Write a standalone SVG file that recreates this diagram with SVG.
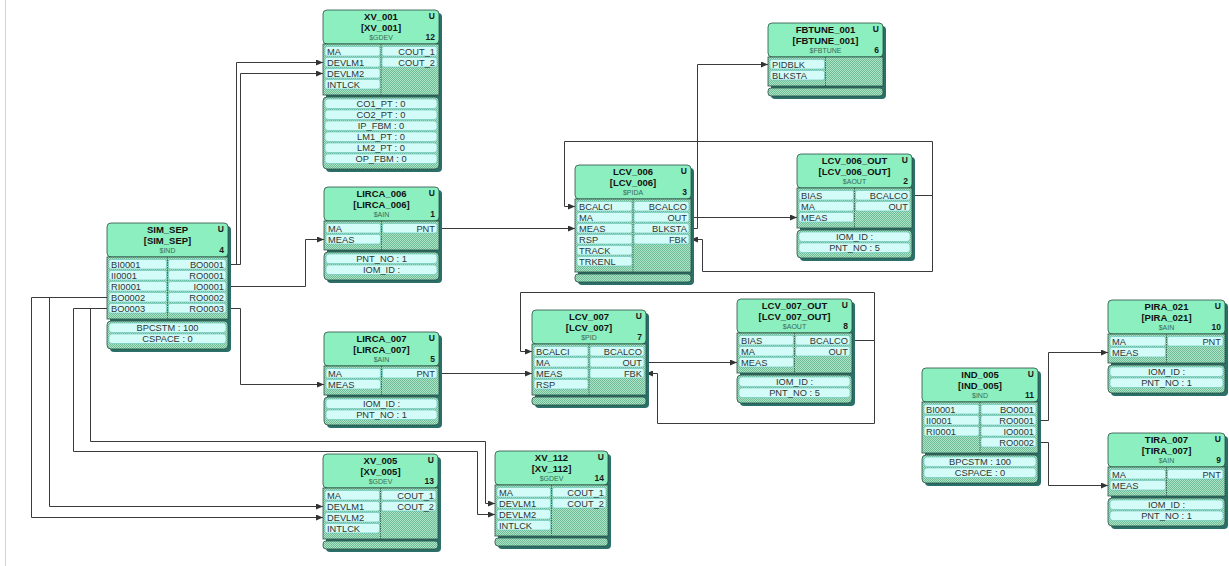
<svg xmlns="http://www.w3.org/2000/svg" width="1229" height="566" viewBox="0 0 1229 566">
<style>
.sh{fill:#2b6f69}
.hd{fill:#8cefbf;stroke:#2a4f44;stroke-width:0.8}
.bd{fill:url(#hatch);stroke:#2a4f44;stroke-width:0.8}
.pa{fill:url(#hatch);stroke:#2a4f44;stroke-width:0.8}
.c{fill:#d3fbf8;stroke:#63c3bb;stroke-width:0.6}
.dv{stroke:#2a4f44;stroke-width:0.8;stroke-dasharray:1.5 1}
text{font-family:"Liberation Sans",Arial,sans-serif}
.t1{font-size:9.5px;font-weight:bold;fill:#111;text-anchor:middle}
.ty{font-size:7px;fill:#3b6b57;text-anchor:middle}
.u{font-size:8.5px;font-weight:bold;fill:#1a1a1a;text-anchor:end}
.l{font-size:9.3px;fill:#2e3535}
.r{font-size:9.3px;fill:#2e3535;text-anchor:end}
.m{font-size:9.3px;fill:#2e3535;text-anchor:middle}
.ln{fill:none;stroke:#3a3a3a;stroke-width:1}
</style>
<defs>
<pattern id="hatch" width="2" height="2" patternUnits="userSpaceOnUse"><rect width="2" height="2" fill="#abe4c6"/><rect width="1" height="1" fill="#6fbb95"/><rect x="1" y="1" width="1" height="1" fill="#6fbb95"/></pattern>
<marker id="ar" viewBox="0 0 7 6" refX="7" refY="3" markerWidth="7" markerHeight="6" markerUnits="userSpaceOnUse" orient="auto"><path d="M0,0 L7,3 L0,6 z" fill="#333"/></marker>
</defs>
<rect width="1229" height="566" fill="#ffffff"/>
<line x1="5.5" y1="0" x2="5.5" y2="566" stroke="#d2d2d2" stroke-width="1"/>

<g id="connectors" class="ln" marker-end="url(#ar)">
<path class="ln" d="M228,264.5 H236.5 V62.5 H323"/>
<path class="ln" d="M228,264.5 H240.5 V73.5 H323"/>
<path class="ln" d="M228,286.5 H305.5 V239.5 H324"/>
<path class="ln" d="M228,308.5 H240.5 V384.5 H324"/>
<path class="ln" d="M107,297.5 H31.5 V517.5 H323"/>
<path class="ln" d="M107,297.5 H49.5 V506.5 H323"/>
<path class="ln" d="M107,308.5 H90.5 V441.5 H485.5 V503.5 H495"/>
<path class="ln" d="M107,308.5 H73.5 V451.5 H477.5 V514.5 H495"/>
<path class="ln" d="M439,228.5 H575"/>
<path class="ln" d="M439,373.5 H532"/>
<path class="ln" d="M691,217.5 H797"/>
<path class="ln" d="M691,228.5 H697.5 V64.5 H768"/>
<path class="ln" d="M912,195.5 H932.5 V141.5 H564.5 V206.5 H575"/>
<path class="ln" d="M912,195.5 H932.5 V271.5 H702.5 V239.5 H691"/>
<path class="ln" d="M646,362.5 H737"/>
<path class="ln" d="M852,340.5 H874.5 V292.5 H520.5 V351.5 H532"/>
<path class="ln" d="M852,340.5 H874.5 V423.5 H657.5 V373.5 H646"/>
<path class="ln" d="M1038,420.5 H1048.5 V352.5 H1108"/>
<path class="ln" d="M1038,442.5 H1048.5 V485.5 H1108"/>
</g>

<g id="SIM_SEP" transform="translate(107,223)">
<rect class="sh" x="3" y="3" width="121" height="126" rx="4"/>
<rect class="hd" width="121" height="34" rx="4"/>
<rect class="bd" y="34" width="121" height="62"/>
<line class="dv" x1="60.5" y1="34" x2="60.5" y2="96"/>
<rect class="c" x="2" y="36.5" width="57.5" height="9.5" rx="2"/><rect class="c" x="2" y="47.5" width="57.5" height="9.5" rx="2"/><rect class="c" x="2" y="58.5" width="57.5" height="9.5" rx="2"/><rect class="c" x="2" y="69.5" width="57.5" height="9.5" rx="2"/><rect class="c" x="2" y="80.5" width="57.5" height="9.5" rx="2"/>
<rect class="c" x="61.5" y="36.5" width="57.5" height="9.5" rx="2"/><rect class="c" x="61.5" y="47.5" width="57.5" height="9.5" rx="2"/><rect class="c" x="61.5" y="58.5" width="57.5" height="9.5" rx="2"/><rect class="c" x="61.5" y="69.5" width="57.5" height="9.5" rx="2"/><rect class="c" x="61.5" y="80.5" width="57.5" height="9.5" rx="2"/>
<rect class="pa" y="98" width="121" height="28" rx="4"/>
<rect class="c" x="2" y="100" width="117" height="9.5" rx="3"/><rect class="c" x="2" y="111" width="117" height="9.5" rx="3"/>
<text class="t1" x="60.5" y="10">SIM_SEP</text><text class="t1" x="60.5" y="21">[SIM_SEP]</text><text class="ty" x="60.5" y="30">$IND</text><text class="u" x="117" y="9">U</text><text class="u" x="117" y="30">4</text>
<text class="l" x="4" y="44.5">BI0001</text><text class="l" x="4" y="55.5">II0001</text><text class="l" x="4" y="66.5">RI0001</text><text class="l" x="4" y="77.5">BO0002</text><text class="l" x="4" y="88.5">BO0003</text>
<text class="r" x="117" y="44.5">BO0001</text><text class="r" x="117" y="55.5">RO0001</text><text class="r" x="117" y="66.5">IO0001</text><text class="r" x="117" y="77.5">RO0002</text><text class="r" x="117" y="88.5">RO0003</text>
<text class="m" x="60.5" y="108">BPCSTM : 100</text><text class="m" x="60.5" y="119">CSPACE : 0</text>
</g>

<g id="XV_001" transform="translate(323,10)">
<rect class="sh" x="3" y="3" width="116" height="159" rx="4"/>
<rect class="hd" width="116" height="34" rx="4"/>
<rect class="bd" y="34" width="116" height="51"/>
<line class="dv" x1="58" y1="34" x2="58" y2="85"/>
<rect class="c" x="2" y="36.5" width="55" height="9.5" rx="2"/><rect class="c" x="2" y="47.5" width="55" height="9.5" rx="2"/><rect class="c" x="2" y="58.5" width="55" height="9.5" rx="2"/><rect class="c" x="2" y="69.5" width="55" height="9.5" rx="2"/>
<rect class="c" x="59" y="36.5" width="55" height="9.5" rx="2"/><rect class="c" x="59" y="47.5" width="55" height="9.5" rx="2"/>
<rect class="pa" y="87" width="116" height="72" rx="4"/>
<rect class="c" x="2" y="89" width="112" height="9.5" rx="3"/><rect class="c" x="2" y="100" width="112" height="9.5" rx="3"/><rect class="c" x="2" y="111" width="112" height="9.5" rx="3"/><rect class="c" x="2" y="122" width="112" height="9.5" rx="3"/><rect class="c" x="2" y="133" width="112" height="9.5" rx="3"/><rect class="c" x="2" y="144" width="112" height="9.5" rx="3"/>
<text class="t1" x="58" y="10">XV_001</text><text class="t1" x="58" y="21">[XV_001]</text><text class="ty" x="58" y="30">$GDEV</text><text class="u" x="112" y="9">U</text><text class="u" x="112" y="30">12</text>
<text class="l" x="4" y="44.5">MA</text><text class="l" x="4" y="55.5">DEVLM1</text><text class="l" x="4" y="66.5">DEVLM2</text><text class="l" x="4" y="77.5">INTLCK</text>
<text class="r" x="112" y="44.5">COUT_1</text><text class="r" x="112" y="55.5">COUT_2</text>
<text class="m" x="58" y="97">CO1_PT : 0</text><text class="m" x="58" y="108">CO2_PT : 0</text><text class="m" x="58" y="119">IP_FBM : 0</text><text class="m" x="58" y="130">LM1_PT : 0</text><text class="m" x="58" y="141">LM2_PT : 0</text><text class="m" x="58" y="152">OP_FBM : 0</text>
</g>

<g id="LIRCA_006" transform="translate(324,187)">
<rect class="sh" x="3" y="3" width="115" height="93" rx="4"/>
<rect class="hd" width="115" height="34" rx="4"/>
<rect class="bd" y="34" width="115" height="29"/>
<line class="dv" x1="57.5" y1="34" x2="57.5" y2="63"/>
<rect class="c" x="2" y="36.5" width="54.5" height="9.5" rx="2"/><rect class="c" x="2" y="47.5" width="54.5" height="9.5" rx="2"/>
<rect class="c" x="58.5" y="36.5" width="54.5" height="9.5" rx="2"/>
<rect class="pa" y="65" width="115" height="28" rx="4"/>
<rect class="c" x="2" y="67" width="111" height="9.5" rx="3"/><rect class="c" x="2" y="78" width="111" height="9.5" rx="3"/>
<text class="t1" x="57.5" y="10">LIRCA_006</text><text class="t1" x="57.5" y="21">[LIRCA_006]</text><text class="ty" x="57.5" y="30">$AIN</text><text class="u" x="111" y="9">U</text><text class="u" x="111" y="30">1</text>
<text class="l" x="4" y="44.5">MA</text><text class="l" x="4" y="55.5">MEAS</text><text class="r" x="111" y="44.5">PNT</text>
<text class="m" x="57.5" y="75">PNT_NO : 1</text><text class="m" x="57.5" y="86">IOM_ID :</text>
</g>

<g id="LIRCA_007" transform="translate(324,332)">
<rect class="sh" x="3" y="3" width="115" height="93" rx="4"/>
<rect class="hd" width="115" height="34" rx="4"/>
<rect class="bd" y="34" width="115" height="29"/>
<line class="dv" x1="57.5" y1="34" x2="57.5" y2="63"/>
<rect class="c" x="2" y="36.5" width="54.5" height="9.5" rx="2"/><rect class="c" x="2" y="47.5" width="54.5" height="9.5" rx="2"/>
<rect class="c" x="58.5" y="36.5" width="54.5" height="9.5" rx="2"/>
<rect class="pa" y="65" width="115" height="28" rx="4"/>
<rect class="c" x="2" y="67" width="111" height="9.5" rx="3"/><rect class="c" x="2" y="78" width="111" height="9.5" rx="3"/>
<text class="t1" x="57.5" y="10">LIRCA_007</text><text class="t1" x="57.5" y="21">[LIRCA_007]</text><text class="ty" x="57.5" y="30">$AIN</text><text class="u" x="111" y="9">U</text><text class="u" x="111" y="30">5</text>
<text class="l" x="4" y="44.5">MA</text><text class="l" x="4" y="55.5">MEAS</text><text class="r" x="111" y="44.5">PNT</text>
<text class="m" x="57.5" y="75">IOM_ID :</text><text class="m" x="57.5" y="86">PNT_NO : 1</text>
</g>

<g id="XV_005" transform="translate(323,454)">
<rect class="sh" x="3" y="3" width="115" height="95" rx="4"/>
<rect class="hd" width="115" height="34" rx="4"/>
<rect class="bd" y="34" width="115" height="51"/>
<line class="dv" x1="57.5" y1="34" x2="57.5" y2="85"/>
<rect class="c" x="2" y="36.5" width="54.5" height="9.5" rx="2"/><rect class="c" x="2" y="47.5" width="54.5" height="9.5" rx="2"/><rect class="c" x="2" y="58.5" width="54.5" height="9.5" rx="2"/><rect class="c" x="2" y="69.5" width="54.5" height="9.5" rx="2"/>
<rect class="c" x="58.5" y="36.5" width="54.5" height="9.5" rx="2"/><rect class="c" x="58.5" y="47.5" width="54.5" height="9.5" rx="2"/>
<rect class="pa" y="87" width="115" height="8" rx="3"/>
<text class="t1" x="57.5" y="10">XV_005</text><text class="t1" x="57.5" y="21">[XV_005]</text><text class="ty" x="57.5" y="30">$GDEV</text><text class="u" x="111" y="9">U</text><text class="u" x="111" y="30">13</text>
<text class="l" x="4" y="44.5">MA</text><text class="l" x="4" y="55.5">DEVLM1</text><text class="l" x="4" y="66.5">DEVLM2</text><text class="l" x="4" y="77.5">INTLCK</text>
<text class="r" x="111" y="44.5">COUT_1</text><text class="r" x="111" y="55.5">COUT_2</text>
</g>

<g id="XV_112" transform="translate(495,451)">
<rect class="sh" x="3" y="3" width="113" height="95" rx="4"/>
<rect class="hd" width="113" height="34" rx="4"/>
<rect class="bd" y="34" width="113" height="51"/>
<line class="dv" x1="56.5" y1="34" x2="56.5" y2="85"/>
<rect class="c" x="2" y="36.5" width="53.5" height="9.5" rx="2"/><rect class="c" x="2" y="47.5" width="53.5" height="9.5" rx="2"/><rect class="c" x="2" y="58.5" width="53.5" height="9.5" rx="2"/><rect class="c" x="2" y="69.5" width="53.5" height="9.5" rx="2"/>
<rect class="c" x="57.5" y="36.5" width="53.5" height="9.5" rx="2"/><rect class="c" x="57.5" y="47.5" width="53.5" height="9.5" rx="2"/>
<rect class="pa" y="87" width="113" height="8" rx="3"/>
<text class="t1" x="56.5" y="10">XV_112</text><text class="t1" x="56.5" y="21">[XV_112]</text><text class="ty" x="56.5" y="30">$GDEV</text><text class="u" x="109" y="9">U</text><text class="u" x="109" y="30">14</text>
<text class="l" x="4" y="44.5">MA</text><text class="l" x="4" y="55.5">DEVLM1</text><text class="l" x="4" y="66.5">DEVLM2</text><text class="l" x="4" y="77.5">INTLCK</text>
<text class="r" x="109" y="44.5">COUT_1</text><text class="r" x="109" y="55.5">COUT_2</text>
</g>

<g id="LCV_006" transform="translate(575,165)">
<rect class="sh" x="3" y="3" width="116" height="117" rx="4"/>
<rect class="hd" width="116" height="34" rx="4"/>
<rect class="bd" y="34" width="116" height="73"/>
<line class="dv" x1="58" y1="34" x2="58" y2="107"/>
<rect class="c" x="2" y="36.5" width="55" height="9.5" rx="2"/><rect class="c" x="2" y="47.5" width="55" height="9.5" rx="2"/><rect class="c" x="2" y="58.5" width="55" height="9.5" rx="2"/><rect class="c" x="2" y="69.5" width="55" height="9.5" rx="2"/><rect class="c" x="2" y="80.5" width="55" height="9.5" rx="2"/><rect class="c" x="2" y="91.5" width="55" height="9.5" rx="2"/>
<rect class="c" x="59" y="36.5" width="55" height="9.5" rx="2"/><rect class="c" x="59" y="47.5" width="55" height="9.5" rx="2"/><rect class="c" x="59" y="58.5" width="55" height="9.5" rx="2"/><rect class="c" x="59" y="69.5" width="55" height="9.5" rx="2"/>
<rect class="pa" y="109" width="116" height="8" rx="3"/>
<text class="t1" x="58" y="10">LCV_006</text><text class="t1" x="58" y="21">[LCV_006]</text><text class="ty" x="58" y="30">$PIDA</text><text class="u" x="112" y="9">U</text><text class="u" x="112" y="30">3</text>
<text class="l" x="4" y="44.5">BCALCI</text><text class="l" x="4" y="55.5">MA</text><text class="l" x="4" y="66.5">MEAS</text><text class="l" x="4" y="77.5">RSP</text><text class="l" x="4" y="88.5">TRACK</text><text class="l" x="4" y="99.5">TRKENL</text>
<text class="r" x="112" y="44.5">BCALCO</text><text class="r" x="112" y="55.5">OUT</text><text class="r" x="112" y="66.5">BLKSTA</text><text class="r" x="112" y="77.5">FBK</text>
</g>

<g id="LCV_006_OUT" transform="translate(797,154)">
<rect class="sh" x="3" y="3" width="115" height="104" rx="4"/>
<rect class="hd" width="115" height="34" rx="4"/>
<rect class="bd" y="34" width="115" height="40"/>
<line class="dv" x1="57.5" y1="34" x2="57.5" y2="74"/>
<rect class="c" x="2" y="36.5" width="54.5" height="9.5" rx="2"/><rect class="c" x="2" y="47.5" width="54.5" height="9.5" rx="2"/><rect class="c" x="2" y="58.5" width="54.5" height="9.5" rx="2"/>
<rect class="c" x="58.5" y="36.5" width="54.5" height="9.5" rx="2"/><rect class="c" x="58.5" y="47.5" width="54.5" height="9.5" rx="2"/>
<rect class="pa" y="76" width="115" height="28" rx="4"/>
<rect class="c" x="2" y="78" width="111" height="9.5" rx="3"/><rect class="c" x="2" y="89" width="111" height="9.5" rx="3"/>
<text class="t1" x="57.5" y="10">LCV_006_OUT</text><text class="t1" x="57.5" y="21">[LCV_006_OUT]</text><text class="ty" x="57.5" y="30">$AOUT</text><text class="u" x="111" y="9">U</text><text class="u" x="111" y="30">2</text>
<text class="l" x="4" y="44.5">BIAS</text><text class="l" x="4" y="55.5">MA</text><text class="l" x="4" y="66.5">MEAS</text>
<text class="r" x="111" y="44.5">BCALCO</text><text class="r" x="111" y="55.5">OUT</text>
<text class="m" x="57.5" y="86">IOM_ID :</text><text class="m" x="57.5" y="97">PNT_NO : 5</text>
</g>

<g id="FBTUNE_001" transform="translate(768,23)">
<rect class="sh" x="3" y="3" width="115" height="73" rx="4"/>
<rect class="hd" width="115" height="34" rx="4"/>
<rect class="bd" y="34" width="115" height="29"/>
<line class="dv" x1="57.5" y1="34" x2="57.5" y2="63"/>
<rect class="c" x="2" y="36.5" width="54.5" height="9.5" rx="2"/><rect class="c" x="2" y="47.5" width="54.5" height="9.5" rx="2"/>
<rect class="pa" y="65" width="115" height="8" rx="3"/>
<text class="t1" x="57.5" y="10">FBTUNE_001</text><text class="t1" x="57.5" y="21">[FBTUNE_001]</text><text class="ty" x="57.5" y="30">$FBTUNE</text><text class="u" x="111" y="9">U</text><text class="u" x="111" y="30">6</text>
<text class="l" x="4" y="44.5">PIDBLK</text><text class="l" x="4" y="55.5">BLKSTA</text>
</g>

<g id="LCV_007" transform="translate(532,310)">
<rect class="sh" x="3" y="3" width="114" height="95" rx="4"/>
<rect class="hd" width="114" height="34" rx="4"/>
<rect class="bd" y="34" width="114" height="51"/>
<line class="dv" x1="57" y1="34" x2="57" y2="85"/>
<rect class="c" x="2" y="36.5" width="54" height="9.5" rx="2"/><rect class="c" x="2" y="47.5" width="54" height="9.5" rx="2"/><rect class="c" x="2" y="58.5" width="54" height="9.5" rx="2"/><rect class="c" x="2" y="69.5" width="54" height="9.5" rx="2"/>
<rect class="c" x="58" y="36.5" width="54" height="9.5" rx="2"/><rect class="c" x="58" y="47.5" width="54" height="9.5" rx="2"/><rect class="c" x="58" y="58.5" width="54" height="9.5" rx="2"/>
<rect class="pa" y="87" width="114" height="8" rx="3"/>
<text class="t1" x="57" y="10">LCV_007</text><text class="t1" x="57" y="21">[LCV_007]</text><text class="ty" x="57" y="30">$PID</text><text class="u" x="110" y="9">U</text><text class="u" x="110" y="30">7</text>
<text class="l" x="4" y="44.5">BCALCI</text><text class="l" x="4" y="55.5">MA</text><text class="l" x="4" y="66.5">MEAS</text><text class="l" x="4" y="77.5">RSP</text>
<text class="r" x="110" y="44.5">BCALCO</text><text class="r" x="110" y="55.5">OUT</text><text class="r" x="110" y="66.5">FBK</text>
</g>

<g id="LCV_007_OUT" transform="translate(737,299)">
<rect class="sh" x="3" y="3" width="115" height="104" rx="4"/>
<rect class="hd" width="115" height="34" rx="4"/>
<rect class="bd" y="34" width="115" height="40"/>
<line class="dv" x1="57.5" y1="34" x2="57.5" y2="74"/>
<rect class="c" x="2" y="36.5" width="54.5" height="9.5" rx="2"/><rect class="c" x="2" y="47.5" width="54.5" height="9.5" rx="2"/><rect class="c" x="2" y="58.5" width="54.5" height="9.5" rx="2"/>
<rect class="c" x="58.5" y="36.5" width="54.5" height="9.5" rx="2"/><rect class="c" x="58.5" y="47.5" width="54.5" height="9.5" rx="2"/>
<rect class="pa" y="76" width="115" height="28" rx="4"/>
<rect class="c" x="2" y="78" width="111" height="9.5" rx="3"/><rect class="c" x="2" y="89" width="111" height="9.5" rx="3"/>
<text class="t1" x="57.5" y="10">LCV_007_OUT</text><text class="t1" x="57.5" y="21">[LCV_007_OUT]</text><text class="ty" x="57.5" y="30">$AOUT</text><text class="u" x="111" y="9">U</text><text class="u" x="111" y="30">8</text>
<text class="l" x="4" y="44.5">BIAS</text><text class="l" x="4" y="55.5">MA</text><text class="l" x="4" y="66.5">MEAS</text>
<text class="r" x="111" y="44.5">BCALCO</text><text class="r" x="111" y="55.5">OUT</text>
<text class="m" x="57.5" y="86">IOM_ID :</text><text class="m" x="57.5" y="97">PNT_NO : 5</text>
</g>

<g id="IND_005" transform="translate(922,368)">
<rect class="sh" x="3" y="3" width="116" height="115" rx="4"/>
<rect class="hd" width="116" height="34" rx="4"/>
<rect class="bd" y="34" width="116" height="51"/>
<line class="dv" x1="58" y1="34" x2="58" y2="85"/>
<rect class="c" x="2" y="36.5" width="55" height="9.5" rx="2"/><rect class="c" x="2" y="47.5" width="55" height="9.5" rx="2"/><rect class="c" x="2" y="58.5" width="55" height="9.5" rx="2"/>
<rect class="c" x="59" y="36.5" width="55" height="9.5" rx="2"/><rect class="c" x="59" y="47.5" width="55" height="9.5" rx="2"/><rect class="c" x="59" y="58.5" width="55" height="9.5" rx="2"/><rect class="c" x="59" y="69.5" width="55" height="9.5" rx="2"/>
<rect class="pa" y="87" width="116" height="28" rx="4"/>
<rect class="c" x="2" y="89" width="112" height="9.5" rx="3"/><rect class="c" x="2" y="100" width="112" height="9.5" rx="3"/>
<text class="t1" x="58" y="10">IND_005</text><text class="t1" x="58" y="21">[IND_005]</text><text class="ty" x="58" y="30">$IND</text><text class="u" x="112" y="9">U</text><text class="u" x="112" y="30">11</text>
<text class="l" x="4" y="44.5">BI0001</text><text class="l" x="4" y="55.5">II0001</text><text class="l" x="4" y="66.5">RI0001</text>
<text class="r" x="112" y="44.5">BO0001</text><text class="r" x="112" y="55.5">RO0001</text><text class="r" x="112" y="66.5">IO0001</text><text class="r" x="112" y="77.5">RO0002</text>
<text class="m" x="58" y="97">BPCSTM : 100</text><text class="m" x="58" y="108">CSPACE : 0</text>
</g>

<g id="PIRA_021" transform="translate(1108,300)">
<rect class="sh" x="3" y="3" width="117" height="93" rx="4"/>
<rect class="hd" width="117" height="34" rx="4"/>
<rect class="bd" y="34" width="117" height="29"/>
<line class="dv" x1="58.5" y1="34" x2="58.5" y2="63"/>
<rect class="c" x="2" y="36.5" width="55.5" height="9.5" rx="2"/><rect class="c" x="2" y="47.5" width="55.5" height="9.5" rx="2"/>
<rect class="c" x="59.5" y="36.5" width="55.5" height="9.5" rx="2"/>
<rect class="pa" y="65" width="117" height="28" rx="4"/>
<rect class="c" x="2" y="67" width="113" height="9.5" rx="3"/><rect class="c" x="2" y="78" width="113" height="9.5" rx="3"/>
<text class="t1" x="58.5" y="10">PIRA_021</text><text class="t1" x="58.5" y="21">[PIRA_021]</text><text class="ty" x="58.5" y="30">$AIN</text><text class="u" x="113" y="9">U</text><text class="u" x="113" y="30">10</text>
<text class="l" x="4" y="44.5">MA</text><text class="l" x="4" y="55.5">MEAS</text><text class="r" x="113" y="44.5">PNT</text>
<text class="m" x="58.5" y="75">IOM_ID :</text><text class="m" x="58.5" y="86">PNT_NO : 1</text>
</g>

<g id="TIRA_007" transform="translate(1108,433)">
<rect class="sh" x="3" y="3" width="117" height="93" rx="4"/>
<rect class="hd" width="117" height="34" rx="4"/>
<rect class="bd" y="34" width="117" height="29"/>
<line class="dv" x1="58.5" y1="34" x2="58.5" y2="63"/>
<rect class="c" x="2" y="36.5" width="55.5" height="9.5" rx="2"/><rect class="c" x="2" y="47.5" width="55.5" height="9.5" rx="2"/>
<rect class="c" x="59.5" y="36.5" width="55.5" height="9.5" rx="2"/>
<rect class="pa" y="65" width="117" height="28" rx="4"/>
<rect class="c" x="2" y="67" width="113" height="9.5" rx="3"/><rect class="c" x="2" y="78" width="113" height="9.5" rx="3"/>
<text class="t1" x="58.5" y="10">TIRA_007</text><text class="t1" x="58.5" y="21">[TIRA_007]</text><text class="ty" x="58.5" y="30">$AIN</text><text class="u" x="113" y="9">U</text><text class="u" x="113" y="30">9</text>
<text class="l" x="4" y="44.5">MA</text><text class="l" x="4" y="55.5">MEAS</text><text class="r" x="113" y="44.5">PNT</text>
<text class="m" x="58.5" y="75">IOM_ID :</text><text class="m" x="58.5" y="86">PNT_NO : 1</text>
</g>
</svg>
